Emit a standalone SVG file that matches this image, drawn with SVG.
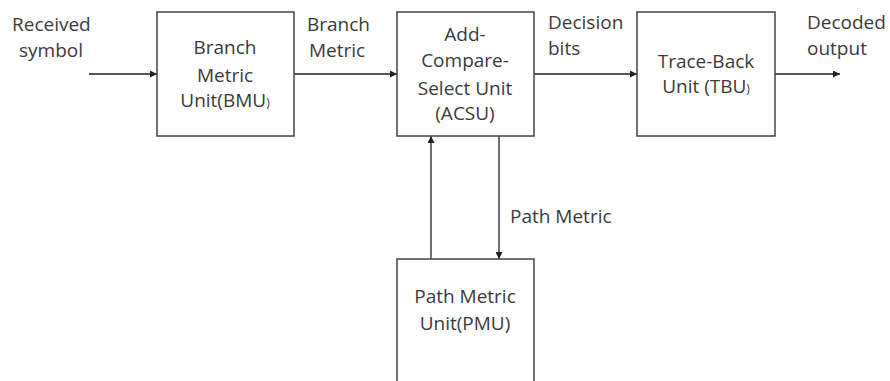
<svg xmlns="http://www.w3.org/2000/svg" width="890" height="381" viewBox="0 0 890 381">
<style>
.box{fill:#fff;stroke:#444;stroke-width:1.5}
.ln{stroke:#222;stroke-width:1.3;fill:none}
text{font-family:"Open Sans","Noto Sans",sans-serif;font-size:19px;fill:#3a3a3a}
.c{text-anchor:middle}
.sm{font-size:12px}
</style>
<defs>
<marker id="ah" viewBox="0 0 10 10" refX="10" refY="5" markerWidth="7" markerHeight="7" markerUnits="userSpaceOnUse" orient="auto">
<path d="M0,0 L10,5 L0,10 z" fill="#222"/>
</marker>
</defs>
<rect width="890" height="381" fill="#fff"/>
<g id="connectors">
<line class="ln" x1="89" y1="74" x2="157" y2="74" marker-end="url(#ah)"/>
<line class="ln" x1="294" y1="74" x2="397" y2="74" marker-end="url(#ah)"/>
<line class="ln" x1="534" y1="74" x2="637" y2="74" marker-end="url(#ah)"/>
<line class="ln" x1="775" y1="74" x2="840" y2="74" marker-end="url(#ah)"/>
<line class="ln" x1="431" y1="259" x2="431" y2="136" marker-end="url(#ah)"/>
<line class="ln" x1="499" y1="136" x2="499" y2="259" marker-end="url(#ah)"/>
<text x="12" y="31">Received</text>
<text x="19" y="57">symbol</text>
<text x="307" y="31">Branch</text>
<text x="309" y="57">Metric</text>
<text x="548" y="29">Decision</text>
<text x="548" y="55">bits</text>
<text x="807" y="29">Decoded</text>
<text x="807" y="55">output</text>
<text x="510" y="223">Path Metric</text>
</g>
<g id="bmu">
<rect class="box" x="157" y="12" width="137" height="124"/>
<text class="c" x="225" y="54">Branch</text>
<text class="c" x="225" y="82">Metric</text>
<text class="c" x="225" y="107">Unit(BMU<tspan class="sm">)</tspan></text>
</g>
<g id="acsu">
<rect class="box" x="397" y="12" width="137" height="124"/>
<text class="c" x="465" y="41">Add-</text>
<text class="c" x="465" y="67">Compare-</text>
<text class="c" x="465" y="95">Select Unit</text>
<text class="c" x="465" y="120">(ACSU)</text>
</g>
<g id="tbu">
<rect class="box" x="637" y="12" width="138" height="124"/>
<text class="c" x="706" y="68">Trace-Back</text>
<text class="c" x="706" y="93">Unit (TBU<tspan class="sm">)</tspan></text>
</g>
<g id="pmu">
<rect class="box" x="397" y="259" width="137" height="140"/>
<text class="c" x="465" y="303">Path Metric</text>
<text class="c" x="465" y="330">Unit(PMU)</text>
</g>
</svg>
